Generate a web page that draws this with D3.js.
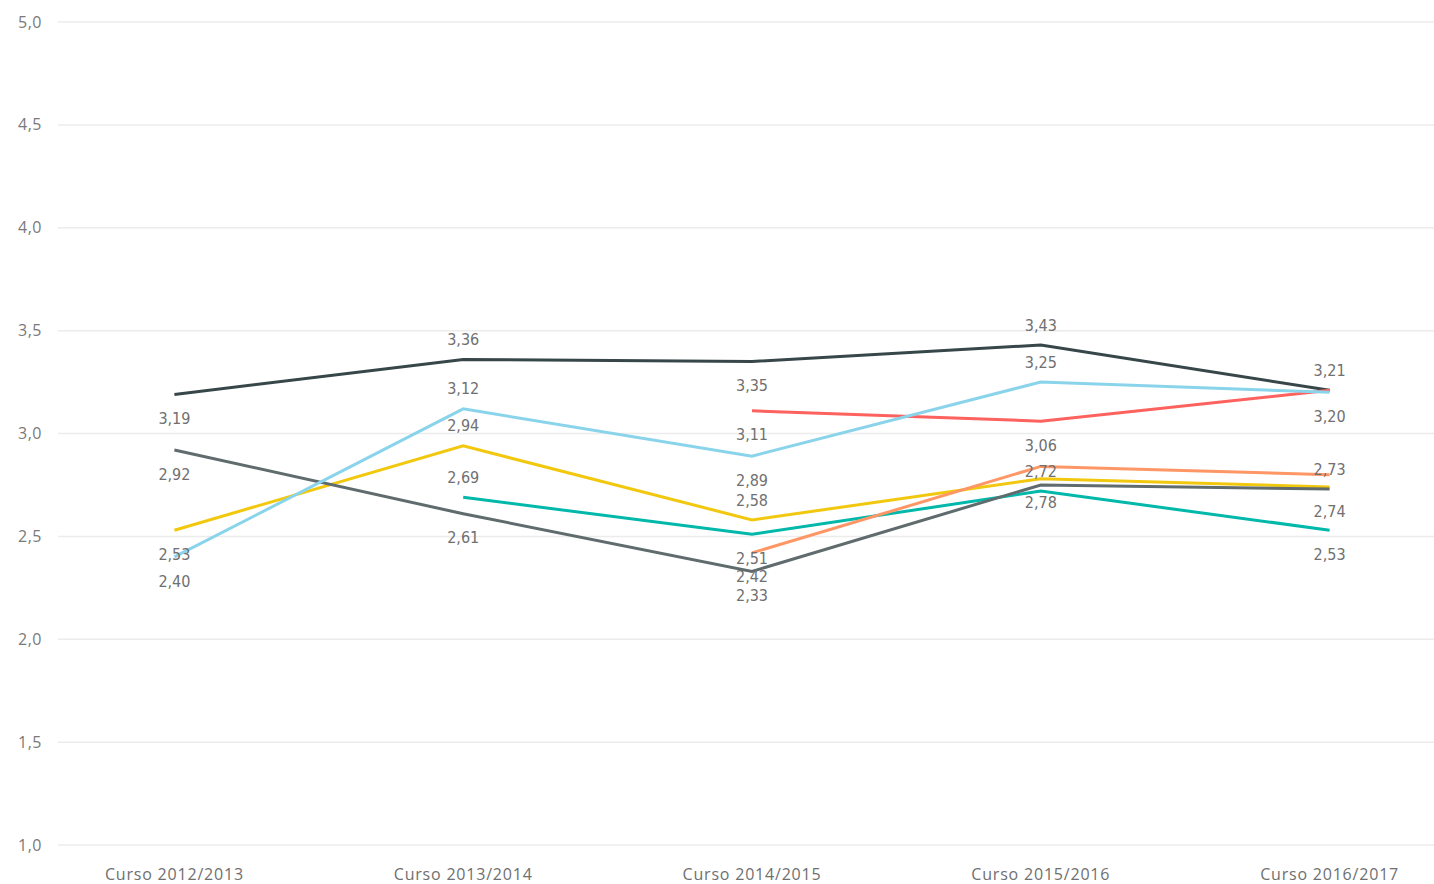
<!DOCTYPE html>
<html>
<head>
<meta charset="utf-8">
<script src="https://cdn.jsdelivr.net/npm/d3@7"></script>
<style>
  html, body { margin: 0; padding: 0; background: #fff; }
  svg { display: block; }
</style>
</head>
<body>
<svg id="chart" width="1434" height="884"></svg>
<script>
// categories on the x axis
const cursos = ['Curso 2012/2013', 'Curso 2013/2014', 'Curso 2014/2015', 'Curso 2015/2016', 'Curso 2016/2017']
const yTicks = [1, 1.5, 2, 2.5, 3, 3.5, 4, 4.5, 5]

// one array per line, null where the series has no value
const teal      = [null, 2.69, 2.51, 2.72, 2.53]
const darkSlate = [3.19, 3.36, 3.35, 3.43, 3.21]
const red       = [null, null, 3.11, 3.06, 3.21]
const yellow    = [2.53, 2.94, 2.58, 2.78, 2.74]
const grey      = [2.92, 2.61, 2.33, 2.75, 2.73]
const lightBlue = [2.40, 3.12, 2.89, 3.25, 3.20]
const orange    = [null, null, 2.42, 2.84, 2.80]

const series = [
  { values: teal,      color: '#01B8AA' },
  { values: darkSlate, color: '#374649' },
  { values: red,       color: '#FD625E' },
  { values: yellow,    color: '#F2C80F' },
  { values: grey,      color: '#5F6B6D' },
  { values: lightBlue, color: '#8AD4EB' },
  { values: orange,    color: '#FE9666' },
]

// where each data label sits: 1 below the point, -1 above, 0 hidden (overlap)
const labelSide = [
  [0, -1, 1, -1, 1],
  [1, -1, 1, -1, -1],
  [0, 0, 1, 1, 0],
  [1, -1, -1, 1, 1],
  [1, 1, 1, 0, -1],
  [1, -1, 1, -1, 1],
  [0, 0, 1, 0, 0],
]

const svg = d3.select('#chart')
const fmt = v => d3.format('.2f')(v).replace('.', ',')

const x = d3.scalePoint().domain(cursos).range([30, 1474]).padding(0.5)
const y = d3.scaleLinear().domain([1, 5]).range([845, 22])

// gridlines + y labels
svg.append('g')
  .selectAll('line')
  .data(yTicks)
  .join('line')
  .attr('x1', 58).attr('x2', 1434)
  .attr('y1', d => y(d)).attr('y2', d => y(d))
  .attr('stroke', '#ececec')
  .attr('stroke-width', 1.5)

svg.append('g')
  .selectAll('text')
  .data(yTicks)
  .join('text')
  .attr('x', 42)
  .attr('y', d => y(d))
  .attr('dy', '0.35em')
  .attr('text-anchor', 'end')
  .attr('font-family', 'Open Sans, Noto Sans, sans-serif')
  .attr('font-size', 16)
  .attr('letter-spacing', 0.5)
  .attr('fill', '#7a7a7a')
  .text(d => d.toFixed(1).replace('.', ','))

// x labels
svg.append('g')
  .selectAll('text')
  .data(cursos)
  .join('text')
  .attr('x', d => x(d))
  .attr('y', 874)
  .attr('dy', '0.35em')
  .attr('text-anchor', 'middle')
  .attr('font-family', 'Open Sans, Noto Sans, sans-serif')
  .attr('font-size', 16)
  .attr('letter-spacing', 0.8)
  .attr('fill', '#6f6f6f')
  .text(d => d)

// lines
const line = d3.line()
  .defined(d => d.v != null)
  .x(d => x(d.c))
  .y(d => y(d.v))

svg.append('g')
  .selectAll('path')
  .data(series)
  .join('path')
  .attr('fill', 'none')
  .attr('stroke', s => s.color)
  .attr('stroke-width', 3)
  .attr('d', s => line(s.values.map((v, i) => ({ c: cursos[i], v }))))

// data labels
const labels = []
series.forEach((s, si) => {
  s.values.forEach((v, i) => {
    const side = labelSide[si][i]
    if (v == null || side === 0) return
    labels.push({ c: cursos[i], v, side })
  })
})

svg.append('g')
  .selectAll('text')
  .data(labels)
  .join('text')
  .attr('x', d => x(d.c))
  .attr('y', d => y(d.v) + (d.side > 0 ? 24 : -20))
  .attr('dy', '0.35em')
  .attr('text-anchor', 'middle')
  .attr('font-family', 'DejaVu Sans Condensed, Roboto, sans-serif')
  .attr('font-size', 16)
  .attr('fill', '#707070')
  .text(d => fmt(d.v))
</script>
</body>
</html>
